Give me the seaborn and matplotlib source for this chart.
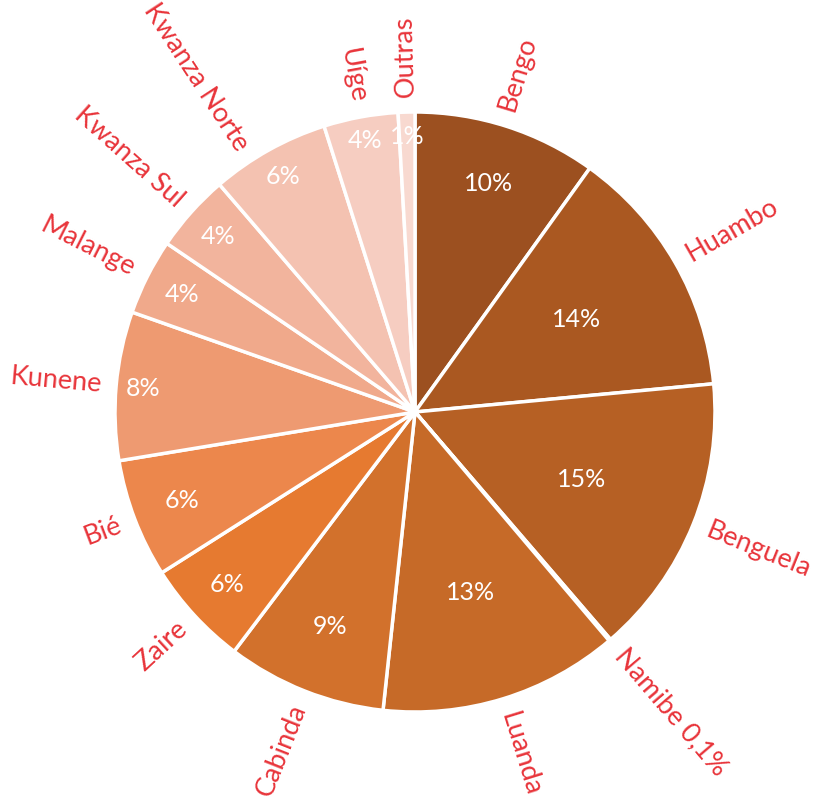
import numpy as np
import matplotlib
matplotlib.use("Agg")
import matplotlib.pyplot as plt
import seaborn as sns

sns.set_theme(style="white")
plt.rcParams["font.family"] = ["Lato", "DejaVu Sans"]

# province shares (%), clockwise from the top
provinces = ["Bengo", "Huambo", "Benguela", "Namibe 0,1%", "Luanda", "Cabinda",
             "Zaire", "Bié", "Kunene", "Malange", "Kwanza Sul", "Kwanza Norte",
             "Uíge", "Outras"]
shares = [9.9, 13.6, 15.2, 0.1, 12.9, 8.6, 5.7, 6.4, 8.0, 4.1, 4.2, 6.4, 4.0, 0.9]
pct_text = ["10%", "14%", "15%", "", "13%", "9%", "6%", "6%", "8%", "4%", "4%",
            "6%", "4%", "1%"]

colors = ["#9C5020", "#AA5821", "#B66024", "#BC6426", "#C66A28", "#D2712C",
          "#E67A30", "#EC874C", "#EE9A71", "#F0A98B", "#F2B49D", "#F4C2B1",
          "#F6CDC1", "#F8D9D0"]
# radial position of the inner % labels (fraction of radius)
pct_r = [0.80, 0.62, 0.60, 0.7, 0.63, 0.77, 0.85, 0.83, 0.91, 0.87, 0.88,
         0.90, 0.92, 0.92]
# small angular nudges (deg) of the outer labels, as the original layout has
name_shift = [1, 0, 0, 0, 0, 0, 0, 0, 0, 0, 0, 4, 0, 0]

label_color = "#E8343A"

fig = plt.figure(figsize=(8.37, 8.06), dpi=100)
ax = fig.add_axes([0, 0, 1, 1])
R = 300.0
cx, cy = 415, 412

wedges, _ = ax.pie(shares, colors=colors, startangle=90, counterclock=False,
                   radius=1.0, wedgeprops=dict(edgecolor="white", linewidth=2.5))
ax.set_xlim(-cx / R, (837 - cx) / R)
ax.set_ylim(-(806 - cy) / R, cy / R)
ax.axis("off")

for w, name, txt, rr, sh in zip(wedges, provinces, pct_text, pct_r, name_shift):
    mid = np.deg2rad((w.theta1 + w.theta2) / 2)
    c, s = np.cos(mid), np.sin(mid)
    if txt:
        ax.text(rr * c, rr * s, txt, color="white", fontsize=18,
                ha="center", va="center")
    ang = np.rad2deg(mid) + sh
    c, s = np.cos(np.deg2rad(ang)), np.sin(np.deg2rad(ang))
    if c >= -0.05:
        rot, ha = ang, "left"
    else:
        rot, ha = ang + 180, "right"
    rot = (rot + 180) % 360 - 180
    ax.text(1.05 * c, 1.05 * s, name, color=label_color, fontsize=19.5,
            rotation=rot, rotation_mode="anchor", ha=ha, va="center")

fig.savefig("out.png", dpi=100)
